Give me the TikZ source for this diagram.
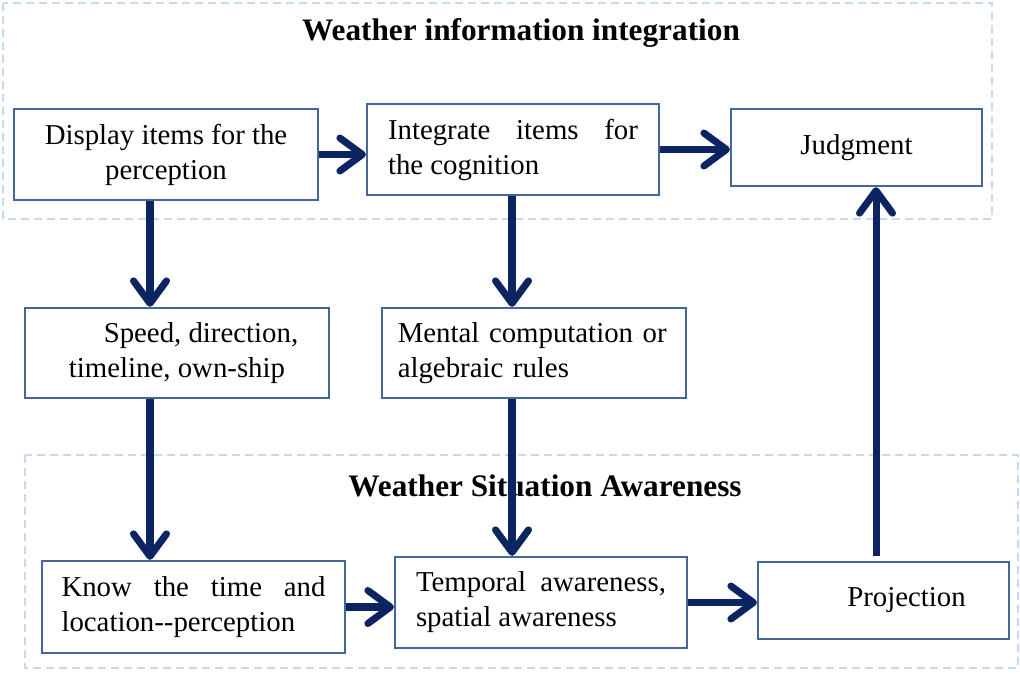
\documentclass[tikz,border=0pt]{standalone}
\usepackage{fontspec}
\setmainfont{Liberation Serif}
\usetikzlibrary{arrows.meta}

\definecolor{flowblue}{HTML}{0C2461}
\definecolor{boxblue}{HTML}{44679B}
\definecolor{zoneblue}{HTML}{C6D9F0}

\tikzset{
  box/.style={draw=boxblue, line width=1.3pt, fill=white, inner sep=0pt,
              font=\fontsize{16.4}{19.9}\selectfont},
  zone/.style={draw=zoneblue, line width=0.8pt, dash pattern=on 0.16cm off 0.1cm},
  flow/.style={draw=flowblue, line width=4pt,
               -{Straight Barb[length=0.45cm, width=0.66cm, round]}},
  zonetitle/.style={font=\fontsize{17.8}{20}\selectfont\bfseries}
}

\begin{document}
\begin{tikzpicture}[x=0.02cm, y=-0.02cm]
            \useasboundingbox (0,0) rectangle (1020,673);

            % dashed zones
            \draw [zone] (3,3) rectangle (992,219);
            \draw [zone] (25,455) rectangle (1018,668);
            \node [zonetitle] (ttop) at (521,33) {Weather information integration};
            \node [zonetitle] (tbot) at (545,486) {Weather Situation Awareness};

            % upper row
            \node [box, minimum width=6.08cm, minimum height=1.82cm, align=center] (disp) at (166,154.5)
                {Display items for the\\perception};
            \node [box, minimum width=5.84cm, minimum height=1.82cm, text width=5cm, align=justify] (integ) at (513,149.5)
                {Integrate items for\linebreak the cognition};
            \node [box, minimum width=5.02cm, minimum height=1.54cm, align=center] (judg) at (856.5,147.5)
                {Judgment};

            % middle row
            \node [box, minimum width=6.08cm, minimum height=1.8cm, align=center] (speed) at (177,353)
                {\hspace*{0.96cm}Speed, direction,\\timeline, own-ship};
            \node [box, minimum width=6.08cm, minimum height=1.8cm, text width=5.45cm, align=left] (ment) at (534,353)
                {Mental computation or\\algebraic rules};

            % lower row
            \node [box, minimum width=6.06cm, minimum height=1.84cm, text width=5.28cm, align=justify] (know) at (193.5,607)
                {Know the time and\linebreak location-{}-perception};
            \node [box, minimum width=5.84cm, minimum height=1.82cm, text width=5cm, align=justify] (temp) at (541,602.5)
                {Temporal awareness,\linebreak spatial awareness};
            \node [box, minimum width=5.02cm, minimum height=1.54cm, align=center] (proj) at (883.5,600.5)
                {\hspace*{0.92cm}Projection};

            \coordinate (colA) at (150,0);
            \coordinate (colB) at (512,0);
            \coordinate (colC) at (876,0);

            % connectors
            \draw [flow] (disp.east) -- (disp.east -| integ.west);
            \draw [flow] (integ.east) -- (integ.east -| judg.west);
            \draw [flow] (disp.south -| colA) -- (speed.north -| colA);
            \draw [flow] (integ.south -| colB) -- (ment.north -| colB);
            \draw [flow] (speed.south -| colA) -- (know.north -| colA);
            \draw [flow] (ment.south -| colB) -- (temp.north -| colB);
            \draw [flow] (know.east) -- (know.east -| temp.west);
            \draw [flow] (temp.east) -- (temp.east -| proj.west);
            \draw [flow] ([yshift=3pt]proj.north -| colC) -- (judg.south -| colC);
\end{tikzpicture}
\end{document}
